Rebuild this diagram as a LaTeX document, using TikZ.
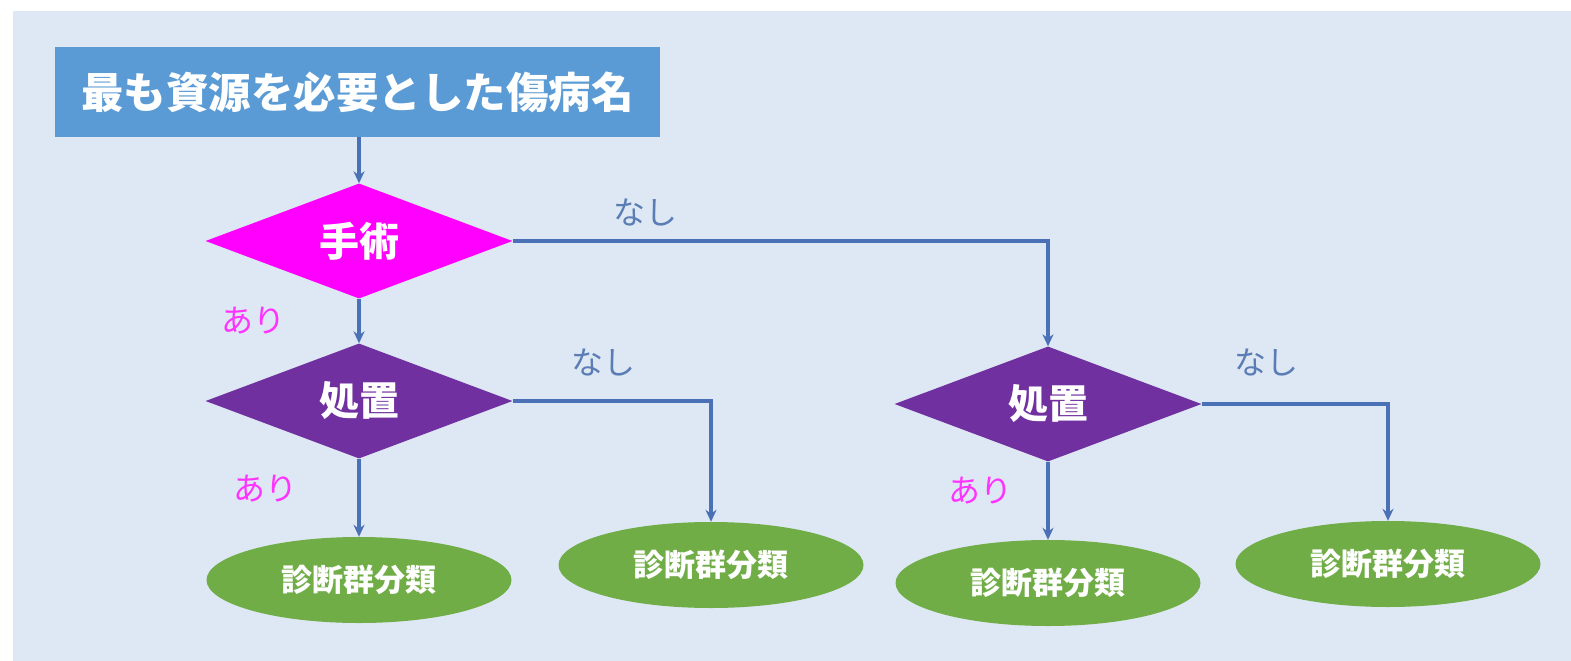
\documentclass[tikz,border=0pt]{standalone}
\usepackage{fontspec}
\newfontfamily\cjk{Noto Sans CJK JP}
\usetikzlibrary{shapes.geometric,arrows.meta}
\definecolor{bg}{HTML}{DEE8F4}
\definecolor{boxblue}{HTML}{5B9BD5}
\definecolor{mag}{HTML}{FF00FF}
\definecolor{purp}{HTML}{7030A0}
\definecolor{grn}{HTML}{70AD47}
\definecolor{lineblue}{HTML}{4A70B5}
\definecolor{nashi}{HTML}{5B7DB5}
\definecolor{ari}{HTML}{FF33FF}
\tikzset{
  every node/.style={font=\cjk},
  decision/.style={diamond, aspect=2.7, inner sep=0pt, minimum width=307pt, minimum height=115pt, text=white, font=\cjk\bfseries\fontsize{40}{44}\selectfont},
  result/.style={ellipse, fill=grn, inner sep=0pt, minimum width=305pt, minimum height=86pt, text=white, font=\cjk\bfseries\fontsize{31}{34}\selectfont},
  flow/.style={draw=lineblue, line width=3.2pt, -{Stealth[length=12pt,width=11pt]}},
  nashilbl/.style={text=nashi, font=\cjk\fontsize{32}{34}\selectfont},
  arilbl/.style={text=ari, font=\cjk\fontsize{32}{34}\selectfont},
}
\begin{document}
\begin{tikzpicture}[x=1pt,y=-1pt]
\useasboundingbox (0,0) rectangle (1571,661);
\fill[white] (0,0) rectangle (1571,661);
\fill[bg] (13,11) rectangle (1571,661);
\node[fill=boxblue, minimum width=605pt, minimum height=90pt, inner sep=0pt, text=white, font=\cjk\bfseries\fontsize{42.5}{46}\selectfont] (top) at (357.5,92) {最も資源を必要とした傷病名};
\node[decision, fill=mag] (d1) at (359,241) {手術};
\node[decision, fill=purp] (d2) at (359,401) {処置};
\node[decision, fill=purp] (d3) at (1048,404) {処置};
\node[result] (e1) at (359,580) {診断群分類};
\node[result] (e2) at (711,565) {診断群分類};
\node[result] (e3) at (1048,583) {診断群分類};
\node[result] (e4) at (1388,564) {診断群分類};
\draw[flow] (top.south -| d1.north) -- (d1.north);
\draw[flow] (d1.south) -- (d2.north);
\draw[flow] (d1.east) -| (d3.north);
\draw[flow] (d2.south) -- (e1.north);
\draw[flow] (d2.east) -| (e2.north);
\draw[flow] (d3.south) -- (e3.north);
\draw[flow] (d3.east) -| (e4.north);
\node[nashilbl] (n1) at (645,212) {なし};
\node[nashilbl] (n2) at (603,362) {なし};
\node[nashilbl] (n3) at (1266,362) {なし};
\node[arilbl] (a1) at (253,321) {あり};
\node[arilbl] (a2) at (265,489) {あり};
\node[arilbl] (a3) at (980,491) {あり};
\end{tikzpicture}
\end{document}
